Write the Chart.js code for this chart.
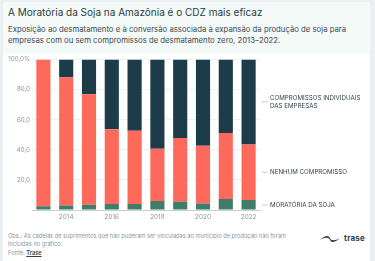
<!DOCTYPE html>
<html>
<head>
<meta charset="utf-8">
<script src="https://cdn.jsdelivr.net/npm/chart.js@4"></script>
<style>
  html, body { margin: 0; padding: 0; }
  body { width: 375px; height: 261px; background: #eceff1; position: relative; overflow: hidden; font-family: "Inter", "Noto Sans", sans-serif; }
  #card { position: absolute; left: 3px; top: 2px; width: 367px; height: 259px; background: #fff; }
  #head { position: absolute; left: 0; top: 0; width: 367px; height: 52px; background: #f4faf8; }
  #title { position: absolute; left: 8px; top: 6px; font-size: 10px; color: #2f3b40; white-space: nowrap; }
  #sub { position: absolute; left: 8px; top: 24px; font-size: 7.75px; line-height: 11px; color: #3b474c; white-space: nowrap; }
  #wrap { position: absolute; left: 0; top: 50px; width: 375px; height: 175px; }
  #note { position: absolute; left: 8px; top: 232px; font-size: 5.7px; line-height: 8.3px; color: #8c979b; white-space: nowrap; }
  #src { position: absolute; left: 8px; top: 249px; font-size: 5.7px; color: #8c979b; }
  #src b { color: #33414a; text-decoration: underline; font-weight: 600; }
  #logo { position: absolute; left: 319px; top: 233px; font-size: 8px; font-weight: 700; color: #2d4350; letter-spacing: 0.2px; }
  #logo svg { vertical-align: middle; margin-right: 3px; }
</style>
</head>
<body>
<div id="card"><div id="head"></div></div>
<div id="title">A Moratória da Soja na Amazônia é o CDZ mais eficaz</div>
<div id="sub">Exposição ao desmatamento e à conversão associada à expansão da produção de soja para<br>empresas com ou sem compromissos de desmatamento zero, 2013–2022.</div>
<div id="wrap"><canvas id="c"></canvas></div>
<div id="note">Obs.: As cadeias de suprimentos que não puderam ser vinculadas ao município de produção não foram<br>incluídas no gráfico.</div>
<div id="src">Fonte: <b>Trase</b></div>
<div id="logo"><svg width="22" height="8" viewBox="0 0 22 8"><path d="M1 5 C6 0, 10 0, 11 3 C12 6, 16 6, 21 3 C16 8, 12 8, 11 5 C10 2, 6 2, 1 5 Z" fill="#2d4350"/></svg>trase</div>
<script>
// values, share of exposure in %
const years = ["2013", "2014", "2015", "2016", "2017", "2018", "2019", "2020", "2021", "2022"];
const moratoria = [2.5, 3.0, 3.5, 4.0, 4.0, 6.0, 5.5, 4.4, 7.3, 6.6];
const nenhum = [97.5, 85.2, 73.4, 49.6, 48.7, 34.7, 42.3, 38.3, 43.9, 37.0];
const individuais = [0, 11.8, 23.1, 46.4, 47.3, 59.3, 52.2, 57.3, 48.8, 56.4];
const yTicks = [0, 20, 40, 60, 80, 100];

const seriesNames = ["MORATÓRIA DA SOJA", "NENHUM COMPROMISSO", ["COMPROMISSOS INDIVIDUAIS", "DAS EMPRESAS"]];
const seriesColors = ["#3f7c6a", "#fd6a5c", "#1c3c4a"];

// labels at the middle of each segment of the last bar
const endLabels = {
  id: 'endLabels',
  afterDatasetsDraw(chart) {
    const ctx = chart.ctx;
    const y = chart.scales.y;
    const right = chart.chartArea.right;
    const last = years.length - 1;
    let base = 0;
    ctx.save();
    ctx.font = '6.2px Inter, "Noto Sans", sans-serif';
    ctx.fillStyle = '#34434a';
    ctx.textBaseline = 'middle';
    chart.data.datasets.forEach((ds, i) => {
      const v = ds.data[last];
      const mid = y.getPixelForValue(base + v / 2);
      base += v;
      ctx.strokeStyle = '#b9c1c4';
      ctx.lineWidth = 0.8;
      ctx.beginPath();
      ctx.moveTo(right + 2, mid);
      ctx.lineTo(right + 8, mid);
      ctx.stroke();
      const lines = Array.isArray(seriesNames[i]) ? seriesNames[i] : [seriesNames[i]];
      lines.forEach((t, k) => {
        const dy = (k - (lines.length - 1) / 2) * 8.4;
        ctx.fillText(t, right + 10, mid + dy);
      });
    });
    ctx.restore();
  }
};

new Chart(document.getElementById('c'), {
  type: 'bar',
  data: {
    labels: years,
    datasets: [
      { label: 'Moratória da Soja', data: moratoria, backgroundColor: seriesColors[0] },
      { label: 'Nenhum compromisso', data: nenhum, backgroundColor: seriesColors[1] },
      { label: 'Compromissos individuais das empresas', data: individuais, backgroundColor: seriesColors[2] }
    ]
  },
  options: {
    responsive: true,
    maintainAspectRatio: false,
    animation: false,
    layout: { padding: { left: 0, right: 115, top: 9.5, bottom: 0 } },
    plugins: { legend: { display: false }, tooltip: { enabled: false } },
    datasets: { bar: { categoryPercentage: 0.62, barPercentage: 1, borderWidth: 0 } },
    scales: {
      x: {
        stacked: true,
        afterFit: s => { s.height = 15; },
        grid: { display: false, drawTicks: false },
        border: { color: '#c9cfd2' },
        ticks: {
          color: '#8c979b', font: { size: 6.4, family: 'Inter, "Noto Sans", sans-serif' },
          maxRotation: 0, autoSkip: false, padding: 3,
          callback: (v, i) => (i % 2 === 1 ? years[i] : '')
        }
      },
      y: {
        stacked: true,
        min: 0, max: 100,
        afterFit: s => { s.width = 32; },
        afterBuildTicks: s => { s.ticks = yTicks.map(v => ({ value: v })); },
        grid: { color: '#eef1f2', drawTicks: false },
        border: { display: false },
        ticks: {
          color: '#8c979b', font: { size: 6.2, family: 'Inter, "Noto Sans", sans-serif' }, padding: 2,
          callback: v => v === 0 ? '' : (v === 100 ? '100,0%' : v.toFixed(1).replace('.', ','))
        }
      }
    }
  },
  plugins: [endLabels]
});
</script>
</body>
</html>
